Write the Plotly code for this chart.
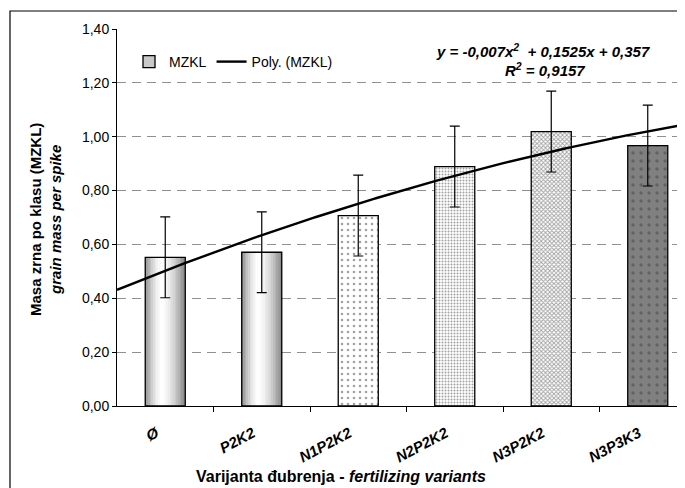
import numpy as np
import plotly.graph_objects as go

categories = ["Ø", "P2K2", "N1P2K2", "N2P2K2", "N3P2K2", "N3P3K3"]
mzkl = [0.552, 0.571, 0.707, 0.889, 1.019, 0.967]
err = [0.15, 0.15, 0.15, 0.15, 0.15, 0.15]
coef = [-0.007, 0.1525, 0.357]  # trendline as printed on chart
ytick_vals = [0, 0.2, 0.4, 0.6, 0.8, 1.0, 1.2, 1.4]
ytick_text = ["0,00", "0,20", "0,40", "0,60", "0,80", "1,00", "1,20", "1,40"]

# page has an 8px body margin; figure is drawn at (8, 8)
OFF = 8
W, H = 685 - OFF, 488 - OFF
L, T = 117 - OFF, 29 - OFF
B = H - (406 - OFF)
PW, PH = W - L, H - T - B


def px(xp):
    return (xp - 117) / PW


def py(yp):
    return (406 - yp) / PH


xidx = list(range(len(categories)))
xmax = -0.5 + PW / 96.5
bw = 0.415

fig = go.Figure()

# gradient (cylinder) fill for first two bars, drawn as thin stripes
nstr = 24
sw = bw / nstr
for k in range(nstr):
    t = (k + 0.5) / nstr
    d = abs(t - 0.42) / (0.58 if t > 0.42 else 0.42)
    g = int(255 - 120 * d ** 1.6)
    fig.add_trace(go.Bar(
        x=xidx[:2], y=mzkl[:2], width=sw, offset=-bw / 2 + k * sw,
        marker=dict(color=f"rgb({g},{g},{g})", line=dict(width=0)),
        showlegend=False, hoverinfo="skip"))

fills = ["rgba(0,0,0,0)", "rgba(0,0,0,0)", "white", "white", "white", "#808080"]
pshape = ["", "", ".", ".", "x", "."]
pfg = ["black", "black", "#9a9a9a", "#a0a0a0", "#7c7c7c", "white"]
pbg = ["rgba(0,0,0,0)", "rgba(0,0,0,0)", "white", "#eeeeee", "#e6e6e6", "#7f7f7f"]
psize = [6, 6, 6, 3, 3, 8]
psol = [0.2, 0.2, 0.15, 0.35, 0.5, 0.15]

fig.add_trace(go.Bar(
    x=xidx, y=mzkl, width=bw, name="MZKL", showlegend=False,
    marker=dict(color=fills, line=dict(color="black", width=1.3),
                pattern=dict(shape=pshape, fgcolor=pfg, bgcolor=pbg,
                             size=psize, solidity=psol)),
    error_y=dict(type="data", array=err, visible=True, color="black",
                 thickness=1.2, width=5)))

# legend entry for bars
fig.add_trace(go.Bar(x=[None], y=[None], name="MZKL",
                     marker=dict(color="#c8c8c8", line=dict(color="black", width=1.3))))

xs = np.linspace(-0.5, xmax, 200)
xe = xs + 1
ys = coef[0] * xe ** 2 + coef[1] * xe + coef[2]
fig.add_trace(go.Scatter(x=xs, y=ys, mode="lines", name="Poly. (MZKL)",
                         line=dict(color="black", width=2.4)))

font = "Liberation Sans, Arial, sans-serif"
fig.update_layout(
    width=W, height=H, barmode="overlay",
    margin=dict(l=L, r=0, t=T, b=B, autoexpand=False),
    paper_bgcolor="white", plot_bgcolor="white",
    font=dict(family=font, size=14, color="black"),
    legend=dict(orientation="h", x=px(129), y=py(46), xanchor="left", yanchor="top",
                bgcolor="rgba(0,0,0,0)", font=dict(size=14),
                itemwidth=30, tracegroupgap=0),
    xaxis=dict(range=[-0.5, xmax], tickvals=xidx,
               ticktext=[f"<b><i>{c}</i></b>" for c in categories],
               tickangle=-28, ticks="", showgrid=False, zeroline=False,
               showline=True, linecolor="black", linewidth=1,
               tickfont=dict(size=15), ticklabelstandoff=12, ticklabelshift=-9,
               minor=dict(tickvals=[i + 0.5 for i in xidx[:-1]], ticks="outside",
                          ticklen=5, tickcolor="black", showgrid=False)),
    yaxis=dict(range=[0, 1.4], tickvals=ytick_vals, ticktext=ytick_text,
               ticks="outside", ticklen=4, tickcolor="black",
               showgrid=True, gridcolor="#909090", griddash="9px,6px", gridwidth=1,
               zeroline=False, showline=True, linecolor="black", linewidth=1,
               tickfont=dict(size=14)),
    shapes=[dict(type="rect", xref="paper", yref="paper",
                 x0=px(10), x1=1.05, y0=py(500), y1=py(11),
                 line=dict(color="black", width=1.2), layer="below")],
    annotations=[
        dict(text="<b>Masa zrna po klasu (MZKL)</b><br><b><i>grain mass per spike</i></b>",
             xref="paper", yref="paper", x=px(46), y=py(220),
             xanchor="center", yanchor="middle",
             textangle=-90, showarrow=False, font=dict(size=15), align="center"),
        dict(text="<b>Varijanta đubrenja - <i>fertilizing variants</i></b>",
             xref="paper", yref="paper", x=px(341), y=py(476),
             xanchor="center", yanchor="middle",
             showarrow=False, font=dict(size=16)),
        dict(text="<b><i>y = -0,007x<sup>2</sup>  + 0,1525x + 0,357</i></b>",
             xref="paper", yref="paper", x=px(543), y=py(50),
             xanchor="center", yanchor="middle",
             showarrow=False, font=dict(size=15)),
        dict(text="<b><i>R<sup>2</sup> = 0,9157</i></b>",
             xref="paper", yref="paper", x=px(545), y=py(69),
             xanchor="center", yanchor="middle",
             showarrow=False, font=dict(size=15)),
    ],
)

fig.write_html("out.html")
